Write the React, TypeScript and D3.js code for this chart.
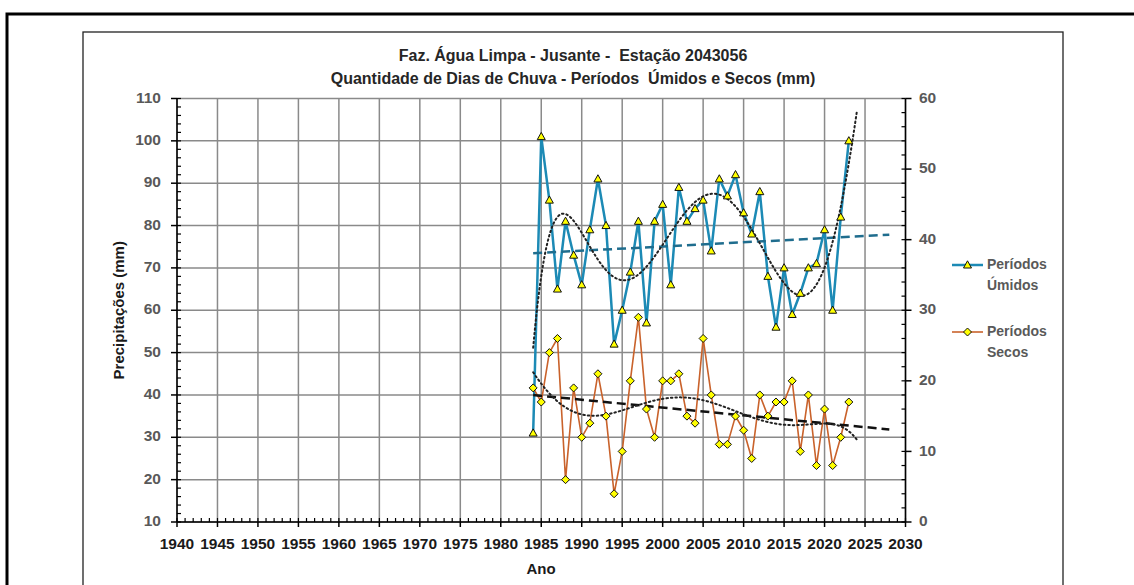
import React from 'react';
import * as d3 from 'd3';

const YEARS = [1984, 1985, 1986, 1987, 1988, 1989, 1990, 1991, 1992, 1993, 1994, 1995, 1996, 1997, 1998, 1999, 2000, 2001, 2002, 2003, 2004, 2005, 2006, 2007, 2008, 2009, 2010, 2011, 2012, 2013, 2014, 2015, 2016, 2017, 2018, 2019, 2020, 2021, 2022, 2023];
const UMIDOS = [31, 101, 86, 65, 81, 73, 66, 79, 91, 80, 52, 60, 69, 81, 57, 81, 85, 66, 89, 81, 84, 86, 74, 91, 87, 92, 83, 78, 88, 68, 56, 70, 59, 64, 70, 71, 79, 60, 82, 100];
const SECOS = [19, 17, 24, 26, 6, 19, 12, 14, 21, 15, 4, 10, 20, 29, 16, 12, 20, 20, 21, 15, 14, 26, 18, 11, 11, 15, 13, 9, 18, 15, 17, 17, 20, 10, 18, 8, 16, 8, 12, 17];
const X_TICKS = [1940, 1945, 1950, 1955, 1960, 1965, 1970, 1975, 1980, 1985, 1990, 1995, 2000, 2005, 2010, 2015, 2020, 2025, 2030];
const LEFT_TICKS = [10, 20, 30, 40, 50, 60, 70, 80, 90, 100, 110];
const RIGHT_TICKS = [0, 10, 20, 30, 40, 50, 60];
const TITLE_LINES = ['Faz. Água Limpa - Jusante -  Estação 2043056', 'Quantidade de Dias de Chuva - Períodos  Úmidos e Secos (mm)'];
const SERIES_NAMES = [['Períodos', 'Úmidos'], ['Períodos', 'Secos']];
const X_TITLE = 'Ano';
const Y_TITLE = 'Precipitações (mm)';

const FONT = "'Liberation Sans', Arial, sans-serif";

function solve(A: number[][], b: number[]): number[] {
  const n = b.length;
  const M = A.map((r, i) => [...r, b[i]]);
  for (let c = 0; c < n; c++) {
    let p = c;
    for (let r = c + 1; r < n; r++) if (Math.abs(M[r][c]) > Math.abs(M[p][c])) p = r;
    [M[c], M[p]] = [M[p], M[c]];
    for (let r = c + 1; r < n; r++) {
      const f = M[r][c] / M[c][c];
      for (let k = c; k <= n; k++) M[r][k] -= f * M[c][k];
    }
  }
  const x = new Array(n).fill(0);
  for (let r = n - 1; r >= 0; r--) {
    let s = M[r][n];
    for (let k = r + 1; k < n; k++) s -= M[r][k] * x[k];
    x[r] = s / M[r][r];
  }
  return x;
}

function polyfit(xs: number[], ys: number[], deg: number) {
  const c0 = d3.mean(xs) as number;
  const t = xs.map((v) => (v - c0) / 20);
  const n = deg + 1;
  const A = Array.from({ length: n }, () => new Array(n).fill(0));
  const b = new Array(n).fill(0);
  t.forEach((tv, i) => {
    for (let r = 0; r < n; r++) {
      b[r] += ys[i] * Math.pow(tv, r);
      for (let c = 0; c < n; c++) A[r][c] += Math.pow(tv, r + c);
    }
  });
  const coef = solve(A, b);
  return (x: number) => {
    const tv = (x - c0) / 20;
    return coef.reduce((s, cf, k) => s + cf * Math.pow(tv, k), 0);
  };
}

export default function App() {
  const W = 1134;
  const H = 585;
  const x = d3.scaleLinear().domain([1940, 2030]).range([177, 905.5]);
  const yL = d3.scaleLinear().domain([10, 110]).range([522, 98.5]);
  const yR = d3.scaleLinear().domain([0, 60]).range([522, 98.5]);

  const uLine = d3.line<number>().x((_, i) => x(YEARS[i])).y((d) => yL(d));
  const sLine = d3.line<number>().x((_, i) => x(YEARS[i])).y((d) => yR(d));

  const first = YEARS[0];
  const last = YEARS[YEARS.length - 1];
  const uLin = polyfit(YEARS, UMIDOS, 1);
  const sLin = polyfit(YEARS, SECOS, 1);
  const uPoly = polyfit(YEARS, UMIDOS, 6);
  const sPoly = polyfit(YEARS, SECOS, 6);
  const polyXs = d3.range(first, last + 1 + 0.001, 0.1);
  const curve = (f: (v: number) => number, ys: d3.ScaleLinear<number, number>) =>
    d3.line<number>().x((v) => x(v)).y((v) => ys(f(v)))(polyXs) as string;

  const minorX = d3.range(1940, 2031, 1);
  const minorL = d3.range(10, 111, 2);
  const minorR = d3.range(0, 61, 2);

  const tri = (cx: number, cy: number) => `M${cx},${cy - 4.2}L${cx + 4},${cy + 3}L${cx - 4},${cy + 3}Z`;
  const dia = (cx: number, cy: number) => `M${cx},${cy - 4}L${cx + 4},${cy}L${cx},${cy + 4}L${cx - 4},${cy}Z`;

  const UCOL = '#1C8AB5';
  const SCOL = '#C9622B';
  const gridC = '#8a8a8a';
  const x0 = x(1940), x1 = x(2030), yTop = yL(110), yBot = yL(10);

  return (
    <svg width={W} height={H} style={{ position: 'absolute', left: 0, top: 0, background: '#fff' }} fontFamily={FONT}>
      <rect x={0} y={0} width={W} height={H} fill="#fff" />
      <rect x={7} y={14} width={W + 20} height={H + 20} fill="none" stroke="#000" strokeWidth={3} />
      <rect x={83} y={32} width={980} height={H + 20} fill="none" stroke="#222" strokeWidth={1.3} />

      {TITLE_LINES.map((t, i) => (
        <text key={i} x={573} y={57 + i * 23} textAnchor="middle" dominantBaseline="middle" fontSize={16} fontWeight="bold" fill="#262626" style={{ whiteSpace: 'pre' }}>{t}</text>
      ))}

      {/* grid */}
      {LEFT_TICKS.map((v) => (
        <line key={'hg' + v} x1={x0} x2={x1} y1={yL(v)} y2={yL(v)} stroke={gridC} strokeWidth={1.5} />
      ))}
      {X_TICKS.map((v) => (
        <line key={'vg' + v} x1={x(v)} x2={x(v)} y1={yTop} y2={yBot} stroke={gridC} strokeWidth={1.5} />
      ))}

      {/* axes */}
      <line x1={x0} x2={x1} y1={yBot} y2={yBot} stroke="#000" strokeWidth={1.5} />
      <line x1={x0} x2={x0} y1={yTop} y2={yBot} stroke="#000" strokeWidth={1.5} />
      <line x1={x1} x2={x1} y1={yTop} y2={yBot} stroke="#000" strokeWidth={1.5} />
      {minorX.map((v) => (
        <line key={'mx' + v} x1={x(v)} x2={x(v)} y1={yBot} y2={yBot - 4} stroke="#000" strokeWidth={1.2} />
      ))}
      {X_TICKS.map((v) => (
        <line key={'Mx' + v} x1={x(v)} x2={x(v)} y1={yBot} y2={yBot + 5} stroke="#000" strokeWidth={1.5} />
      ))}
      {minorL.map((v) => (
        <line key={'ml' + v} x1={x0} x2={x0 + 4} y1={yL(v)} y2={yL(v)} stroke="#000" strokeWidth={1.2} />
      ))}
      {LEFT_TICKS.map((v) => (
        <line key={'Ml' + v} x1={x0 - 6} x2={x0} y1={yL(v)} y2={yL(v)} stroke="#000" strokeWidth={1.5} />
      ))}
      {minorR.map((v) => (
        <line key={'mr' + v} x1={x1 - 4} x2={x1} y1={yR(v)} y2={yR(v)} stroke="#000" strokeWidth={1.2} />
      ))}
      {RIGHT_TICKS.map((v) => (
        <line key={'Mr' + v} x1={x1} x2={x1 + 6} y1={yR(v)} y2={yR(v)} stroke="#000" strokeWidth={1.5} />
      ))}

      {/* tick labels */}
      {LEFT_TICKS.map((v) => (
        <text key={'lt' + v} x={161} y={yL(v)} textAnchor="end" dominantBaseline="middle" fontSize={15.5} fontWeight="bold" fill="#595959">{v}</text>
      ))}
      {RIGHT_TICKS.map((v) => (
        <text key={'rt' + v} x={919} y={yR(v)} textAnchor="start" dominantBaseline="middle" fontSize={15.5} fontWeight="bold" fill="#595959">{v}</text>
      ))}
      {X_TICKS.map((v) => (
        <text key={'xt' + v} x={x(v)} y={545} textAnchor="middle" dominantBaseline="middle" fontSize={15.5} fontWeight="bold" fill="#1a1a1a">{v}</text>
      ))}
      <text x={541} y={570} textAnchor="middle" dominantBaseline="middle" fontSize={15} fontWeight="bold" fill="#1a1a1a">{X_TITLE}</text>
      <text transform={`translate(120,${(yTop + yBot) / 2}) rotate(-90)`} textAnchor="middle" dominantBaseline="middle" fontSize={15} fontWeight="bold" fill="#1a1a1a">{Y_TITLE}</text>

      {/* series */}
      <path d={uLine(UMIDOS) as string} fill="none" stroke={UCOL} strokeWidth={2.5} strokeLinejoin="round" />
      <path d={sLine(SECOS) as string} fill="none" stroke={SCOL} strokeWidth={1.6} strokeLinejoin="round" />

      {/* trendlines */}
      <line x1={x(first)} x2={x(last + 5)} y1={yL(uLin(first))} y2={yL(uLin(last + 5))} stroke="#1F6D8E" strokeWidth={2.5} strokeDasharray="9,5" />
      <line x1={x(first)} x2={x(last + 5)} y1={yR(sLin(first))} y2={yR(sLin(last + 5))} stroke="#111" strokeWidth={2.5} strokeDasharray="9,5" />
      <path d={curve(uPoly, yL)} fill="none" stroke="#222" strokeWidth={2} strokeDasharray="1.5,3" strokeLinecap="round" />
      <path d={curve(sPoly, yR)} fill="none" stroke="#222" strokeWidth={2} strokeDasharray="1.5,3" strokeLinecap="round" />

      {/* markers */}
      {UMIDOS.map((v, i) => (
        <path key={'um' + i} d={tri(x(YEARS[i]), yL(v))} fill="#FFFF00" stroke="#111" strokeWidth={1} />
      ))}
      {SECOS.map((v, i) => (
        <path key={'sm' + i} d={dia(x(YEARS[i]), yR(v))} fill="#FFFF00" stroke="#111" strokeWidth={1} />
      ))}

      {/* legend */}
      <line x1={952} x2={983} y1={265} y2={265} stroke={UCOL} strokeWidth={2.5} />
      <path d={tri(967.5, 265)} fill="#FFFF00" stroke="#111" strokeWidth={1} />
      <text x={987} y={265} dominantBaseline="middle" fontSize={14} fontWeight="bold" fill="#595959">{SERIES_NAMES[0][0]}</text>
      <text x={987} y={286} dominantBaseline="middle" fontSize={14} fontWeight="bold" fill="#595959">{SERIES_NAMES[0][1]}</text>
      <line x1={952} x2={983} y1={332} y2={332} stroke={SCOL} strokeWidth={1.6} />
      <path d={dia(967.5, 332)} fill="#FFFF00" stroke="#111" strokeWidth={1} />
      <text x={987} y={332} dominantBaseline="middle" fontSize={14} fontWeight="bold" fill="#595959">{SERIES_NAMES[1][0]}</text>
      <text x={987} y={353} dominantBaseline="middle" fontSize={14} fontWeight="bold" fill="#595959">{SERIES_NAMES[1][1]}</text>
    </svg>
  );
}
